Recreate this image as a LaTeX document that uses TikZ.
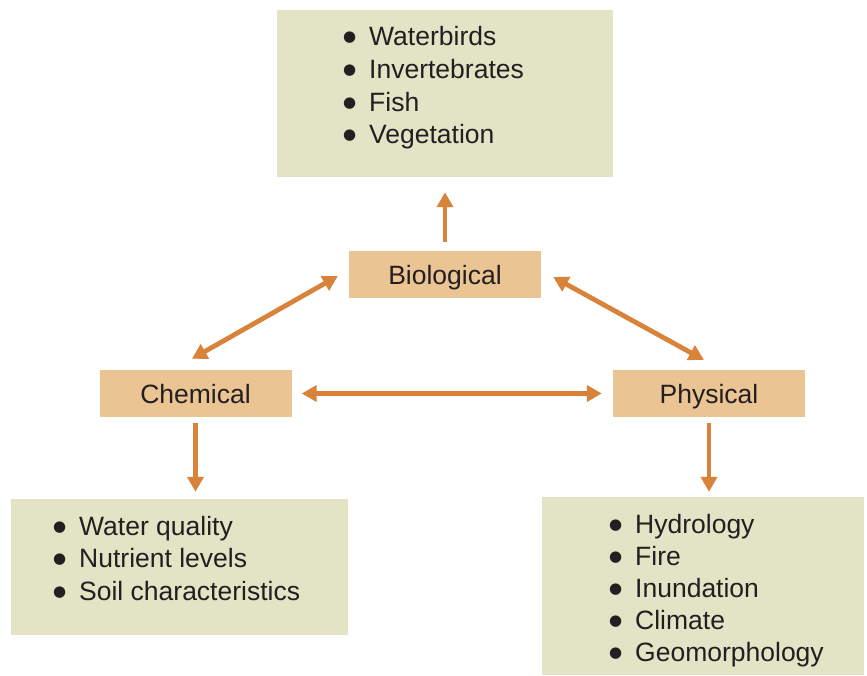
\documentclass[tikz,border=0pt]{standalone}
\usepackage{fontspec}
\setmainfont{Liberation Sans}
\newfontfamily\symf{DejaVu Sans}
\usetikzlibrary{arrows.meta,calc}
\definecolor{boxgreen}{HTML}{E3E3C5}
\definecolor{boxorange}{HTML}{EBC494}
\definecolor{arrowc}{HTML}{D9823A}
\definecolor{txt}{HTML}{231F20}
\newcommand{\bul}{\llap{\makebox[0pt][c]{\raisebox{4pt}{\symf\fontsize{15}{15}\selectfont ●}}\hspace{19.5pt}}}
\begin{document}
\begin{tikzpicture}[x=1pt,y=-1pt,
  every node/.style={font=\fontsize{26.5}{31}\selectfont, text=txt, inner sep=0pt},
  greenbox/.style={fill=boxgreen, draw=none, rectangle},
  catbox/.style={fill=boxorange, draw=none, rectangle, minimum width=192pt, minimum height=47pt, text height=20pt, text depth=0pt},
  item/.style={anchor=base west},
  arr/.style={draw=arrowc, line width=4.8pt, -{Triangle[length=15pt,width=16pt]}},
  darr/.style={draw=arrowc, line width=4.8pt, {Triangle[length=15pt,width=16pt]}-{Triangle[length=15pt,width=16pt]}}]
\useasboundingbox (0,0) rectangle (867,675);
% list boxes
\node[greenbox, minimum width=336pt, minimum height=167pt] (bioL) at (445,93.5) {};
\node[greenbox, minimum width=337pt, minimum height=136pt] (chemL) at (179.5,567) {};
\node[greenbox, minimum width=322pt, minimum height=178pt] (physL) at (703,586) {};
% category boxes
\node[catbox] (bio) at (445,274) {Biological};
\node[catbox] (chem) at (195.5,393.5) {Chemical};
\node[catbox] (phys) at (709,393.5) {Physical};
% items
\node[item] (b1) at (369,45) {\bul Waterbirds};
\node[item] (b2) at (369,78) {\bul Invertebrates};
\node[item] (b3) at (369,111) {\bul Fish};
\node[item] (b4) at (369,143) {\bul Vegetation};
\node[item] (c1) at (79,535) {\bul Water quality};
\node[item] (c2) at (79,567) {\bul Nutrient levels};
\node[item] (c3) at (79,600) {\bul Soil characteristics};
\node[item] (p1) at (635,533) {\bul Hydrology};
\node[item] (p2) at (635,565) {\bul Fire};
\node[item] (p3) at (635,597.5) {\bul Inundation};
\node[item] (p4) at (635,629.5) {\bul Climate};
\node[item] (p5) at (635,661.5) {\bul Geomorphology};
% connectors
\draw[arr, shorten <=8pt, shorten >=15pt] (bio.north) -- (bioL.south);
\draw[darr, shorten <=12.6pt, shorten >=22.3pt] ([yshift=4.2pt]bio.west) -- ([xshift=-23pt]chem.north);
\draw[darr, shorten <=13.7pt, shorten >=20.6pt] ([yshift=3.6pt]bio.east) -- ([xshift=13pt]phys.north);
\draw[darr, shorten <=10pt, shorten >=11pt] (chem.east) -- (phys.west);
\draw[arr, shorten <=6pt, shorten >=7pt] (chem.south) -- (chem.south |- chemL.north);
\draw[arr, shorten <=6pt, shorten >=5pt] (phys.south) -- (phys.south |- physL.north);
\end{tikzpicture}
\end{document}
